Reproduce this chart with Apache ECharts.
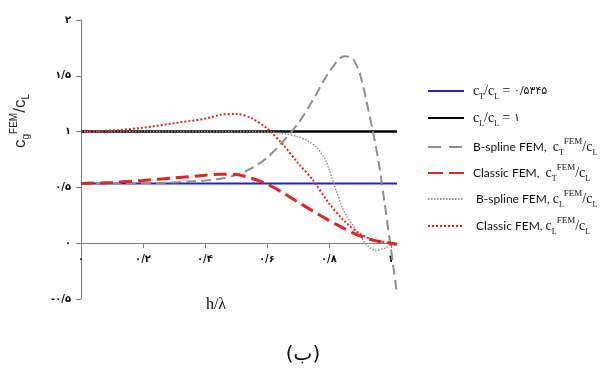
<!DOCTYPE html>
<html>
<head>
<meta charset="utf-8">
<script src="https://cdn.jsdelivr.net/npm/echarts@6/dist/echarts.min.js"></script>
<style>
  html, body { margin: 0; padding: 0; background: #fff; }
  #chart { width: 607px; height: 383px; }
</style>
</head>
<body>
<div id="chart"></div>
<script>
// axis ticks (Persian digits as in the original figure)
const xTicks = [0, 0.2, 0.4, 0.6, 0.8, 1];
const xTickLabels = ['۰', '۰/۲', '۰/۴', '۰/۶', '۰/۸', '۱'];
const yTicks = [-0.5, 0, 0.5, 1, 1.5, 2];
const yTickLabels = ['-۰/۵', '۰', '۰/۵', '۱', '۱/۵', '۲'];

// reference lines
const flatX = [0, 1.02];
const ratioTY = [0.5345, 0.5345];
const ratioLY = [1, 1];

// B-spline FEM, cT/cL
const bsplineTX = [0, 0.1, 0.2, 0.3, 0.35, 0.4, 0.45, 0.5, 0.55, 0.6, 0.65, 0.7, 0.75, 0.8, 0.85, 0.875, 0.9, 0.92, 0.94, 0.96, 0.98, 1.0, 1.02];
const bsplineTY = [0.5345, 0.535, 0.537, 0.545, 0.553, 0.562, 0.578, 0.61, 0.67, 0.765, 0.905, 1.07, 1.29, 1.53, 1.675, 1.66, 1.52, 1.29, 1.03, 0.74, 0.36, -0.04, -0.46];

// Classic FEM, cT/cL
const classicTX = [0, 0.1, 0.2, 0.3, 0.4, 0.45, 0.5, 0.55, 0.6, 0.65, 0.7, 0.75, 0.8, 0.85, 0.9, 0.95, 1.0, 1.02];
const classicTY = [0.5345, 0.545, 0.562, 0.585, 0.608, 0.618, 0.615, 0.582, 0.53, 0.455, 0.37, 0.285, 0.205, 0.13, 0.065, 0.022, 0.0, -0.01];

// B-spline FEM, cL/cL
const bsplineLX = [0, 0.2, 0.4, 0.55, 0.6, 0.65, 0.7, 0.73, 0.76, 0.79, 0.82, 0.85, 0.88, 0.9, 0.92, 0.95, 0.98, 1.01];
const bsplineLY = [1, 1, 1, 1, 0.998, 0.985, 0.955, 0.92, 0.86, 0.74, 0.5, 0.28, 0.15, 0.07, -0.01, -0.065, -0.045, 0.0];

// Classic FEM, cL/cL
const classicLX = [0, 0.1, 0.2, 0.3, 0.4, 0.45, 0.5, 0.55, 0.6, 0.65, 0.7, 0.75, 0.8, 0.85, 0.9, 0.95, 1.0, 1.02];
const classicLY = [1.0, 1.01, 1.035, 1.075, 1.115, 1.15, 1.158, 1.12, 1.03, 0.89, 0.72, 0.56, 0.36, 0.2, 0.085, 0.025, 0.0, -0.005];

const zip = (xs, ys) => xs.map((x, i) => [x, ys[i]]);

const BLUE = '#2424c8';
const GRAY = '#8e8e8e';
const RED = '#e0261e';
const AXIS = '#808080';
const PERSIAN = '"DejaVu Sans", "Noto Sans", sans-serif';

const GRID_TOP = 20;
const GRID_BOTTOM = 84;
const Y_MIN = -0.5;
const Y_MAX = 2;
// x axis sits on y = 0, so shift it up from the grid bottom
const gridH = 383 - GRID_TOP - GRID_BOTTOM;
const xAxisOffset = -gridH * (0 - Y_MIN) / (Y_MAX - Y_MIN);

const rich = {
  t: { fontFamily: 'Lato, "Open Sans", sans-serif', fontSize: 12, lineHeight: 20, color: '#111' },
  c: { fontFamily: '"Liberation Serif", serif', fontSize: 14, lineHeight: 20, color: '#111' },
  p: { fontFamily: PERSIAN, fontSize: 11, lineHeight: 20, color: '#111' },
  sb: { fontFamily: '"Liberation Serif", serif', fontSize: 8, lineHeight: 9, verticalAlign: 'bottom', color: '#111' },
  sp: { fontFamily: '"Liberation Serif", serif', fontSize: 9, lineHeight: 13, verticalAlign: 'top', color: '#111' },
};

const legendRows = [
  { name: 'ratioT', y: 93, text: '{c|c}{sb|T}{c|/c}{sb|L}{c| = }{p|۰/۵۳۴۵}', dash: 'solid' },
  { name: 'ratioL', y: 120, text: '{c|c}{sb|L}{c|/c}{sb|L}{c| = }{p|۱}', dash: 'solid' },
  { name: 'bsplineT', y: 147, text: '{t|B-spline FEM,  }{c|c}{sb|T}{sp|FEM}{c|/c}{sb|L}', dash: [13, 8] },
  { name: 'classicT', y: 173, text: '{t|Classic FEM,  }{c|c}{sb|T}{sp|FEM}{c|/c}{sb|L}', dash: [15, 6] },
  { name: 'bsplineL', y: 199, text: '{t| B-spline FEM, }{c|c}{sb|L}{sp|FEM}{c|/c}{sb|L}', dash: [1.5, 1.5] },
  { name: 'classicL', y: 226, text: '{t| Classic FEM, }{c|c}{sb|L}{sp|FEM}{c|/c}{sb|L}', dash: [2, 2] },
];

const chart = echarts.init(document.getElementById('chart'), null, { renderer: 'canvas' });

chart.setOption({
  animation: false,
  backgroundColor: '#fff',
  grid: { left: 81, right: 210, top: GRID_TOP, bottom: GRID_BOTTOM },
  xAxis: {
    type: 'value',
    min: 0,
    max: 1.02,
    offset: xAxisOffset,
    axisLine: { onZero: false, lineStyle: { color: AXIS, width: 1 } },
    axisTick: { show: true, length: 5, customValues: xTicks, lineStyle: { color: AXIS } },
    axisLabel: {
      customValues: xTicks,
      margin: 11,
      fontSize: 10,
      fontWeight: 'bold',
      fontFamily: PERSIAN,
      color: '#111',
      formatter: (v) => {
        const i = xTicks.findIndex((t) => Math.abs(t - v) < 1e-6);
        return i >= 0 ? xTickLabels[i] : '';
      },
    },
    splitLine: { show: false },
  },
  yAxis: {
    type: 'value',
    min: Y_MIN,
    max: Y_MAX,
    interval: 0.5,
    axisLine: { show: true, lineStyle: { color: AXIS, width: 1 } },
    axisTick: { show: true, length: 5, lineStyle: { color: AXIS } },
    axisLabel: {
      margin: 10,
      fontSize: 10,
      fontWeight: 'bold',
      fontFamily: PERSIAN,
      color: '#111',
      formatter: (v) => {
        const i = yTicks.findIndex((t) => Math.abs(t - v) < 1e-6);
        return i >= 0 ? yTickLabels[i] : '';
      },
    },
    splitLine: { show: false },
  },
  legend: legendRows.map((r) => ({
    data: [r.name],
    orient: 'vertical',
    left: 427,
    top: r.y - 10,
    padding: 0,
    itemWidth: 36,
    itemHeight: 20,
    itemGap: 0,
    selectedMode: false,
    formatter: () => r.text,
    textStyle: { rich, padding: [0, 0, 0, 4] },
    itemStyle: { opacity: 0 },
    lineStyle: { type: r.dash },
  })),
  series: [
    {
      name: 'ratioT', type: 'line', data: zip(flatX, ratioTY), symbol: 'none', z: 3,
      lineStyle: { color: BLUE, width: 2 }, itemStyle: { color: BLUE },
    },
    {
      name: 'ratioL', type: 'line', data: zip(flatX, ratioLY), symbol: 'none', z: 2,
      lineStyle: { color: '#000', width: 2.5 }, itemStyle: { color: '#000' },
    },
    {
      name: 'bsplineT', type: 'line', data: zip(bsplineTX, bsplineTY), symbol: 'none', smooth: 0.3, z: 4,
      lineStyle: { color: GRAY, width: 2, type: [10, 5] }, itemStyle: { color: GRAY },
    },
    {
      name: 'classicT', type: 'line', data: zip(classicTX, classicTY), symbol: 'none', smooth: 0.3, z: 5,
      lineStyle: { color: RED, width: 3, type: [13, 6] }, itemStyle: { color: RED },
    },
    {
      name: 'bsplineL', type: 'line', data: zip(bsplineLX, bsplineLY), symbol: 'none', smooth: 0.3, z: 4,
      lineStyle: { color: GRAY, width: 1.5, type: [1.5, 1.5] }, itemStyle: { color: GRAY },
    },
    {
      name: 'classicL', type: 'line', data: zip(classicLX, classicLY), symbol: 'none', smooth: 0.3, z: 5,
      lineStyle: { color: RED, width: 2, type: [2, 2] }, itemStyle: { color: RED },
    },
  ],
  graphic: [
    {
      type: 'text',
      x: 20,
      y: 121,
      rotation: Math.PI / 2,
      style: {
        text: '{a|c}{s|g}{u|FEM}{a|/c}{s|L}',
        align: 'center',
        verticalAlign: 'middle',
        rich: {
          a: { fontFamily: '"Liberation Sans Narrow", "Liberation Sans", sans-serif', fontSize: 17, lineHeight: 22, fill: '#222' },
          s: { fontFamily: '"Liberation Sans Narrow", "Liberation Sans", sans-serif', fontSize: 10, lineHeight: 10, verticalAlign: 'bottom', fill: '#222' },
          u: { fontFamily: '"Liberation Sans Narrow", "Liberation Sans", sans-serif', fontSize: 10, lineHeight: 13, verticalAlign: 'top', fill: '#222' },
        },
      },
    },
    {
      type: 'text',
      x: 216,
      y: 305,
      style: {
        text: 'h/λ',
        align: 'center',
        verticalAlign: 'middle',
        font: '16px "Liberation Serif", serif',
        fill: '#111',
      },
    },
    {
      type: 'text',
      x: 303,
      y: 355,
      style: {
        text: '(ب)',
        align: 'center',
        verticalAlign: 'middle',
        font: '20px "DejaVu Sans", sans-serif',
        fill: '#111',
      },
    },
  ],
});
</script>
</body>
</html>
